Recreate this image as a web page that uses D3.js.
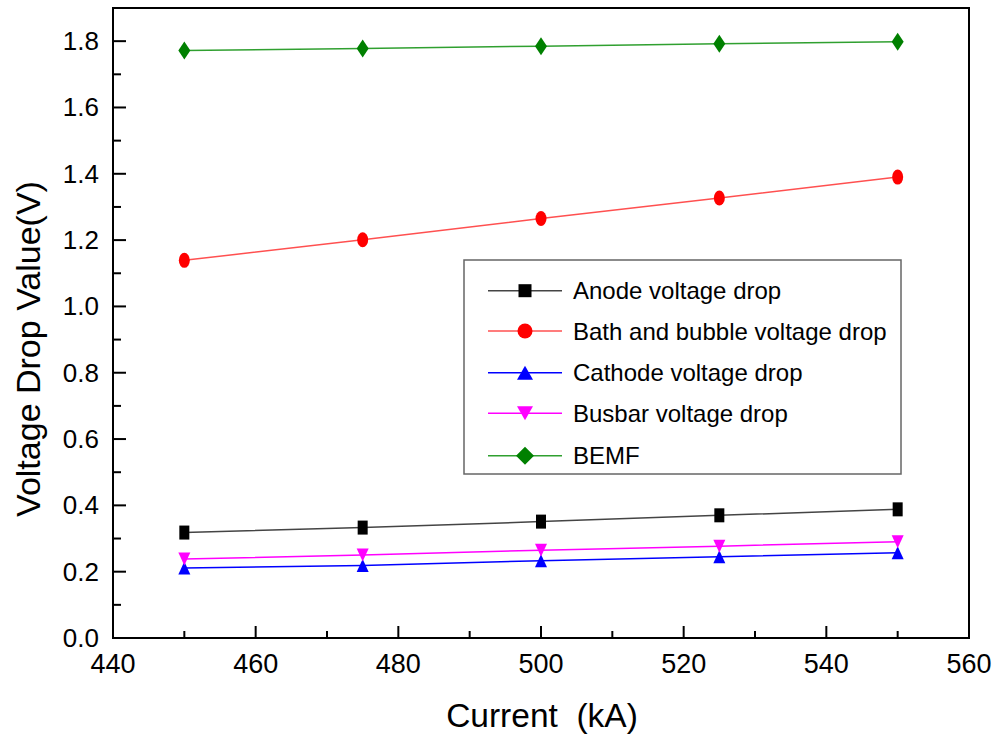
<!DOCTYPE html>
<html><head><meta charset="utf-8">
<script src="https://cdn.jsdelivr.net/npm/d3@7"></script>
<style>body{margin:0;background:#fff}svg{display:block}text{font-family:"Liberation Sans",Arial,sans-serif}</style>
</head><body><svg id="c" width="996" height="740"></svg>
<script>
const current = [450, 475, 500, 525, 550];
const anode   = [0.318, 0.333, 0.351, 0.370, 0.388];
const bath    = [1.139, 1.201, 1.265, 1.327, 1.390];
const cathode = [0.211, 0.219, 0.233, 0.245, 0.257];
const busbar  = [0.238, 0.250, 0.265, 0.277, 0.290];
const bemf    = [1.772, 1.778, 1.785, 1.792, 1.798];
const xTicks = [440, 460, 480, 500, 520, 540, 560];
const yTicks = [0.0, 0.2, 0.4, 0.6, 0.8, 1.0, 1.2, 1.4, 1.6, 1.8];

const series = [
  {name:"Anode voltage drop", values:anode, color:"#000000", line:"#444", shape:"square"},
  {name:"Bath and bubble voltage drop", values:bath, color:"#ff0000", line:"#ff5050", shape:"circle"},
  {name:"Cathode voltage drop", values:cathode, color:"#0000ff", line:"#0000ff", shape:"tri"},
  {name:"Busbar voltage drop", values:busbar, color:"#ff00ff", line:"#ff00ff", shape:"tridown"},
  {name:"BEMF", values:bemf, color:"#008000", line:"#30a030", shape:"diamond"}
];

const L=113, R=969, T=8, B=638;
const x = d3.scaleLinear().domain([440,560]).range([L,R]);
const y = d3.scaleLinear().domain([0,1.9]).range([B,T]);
const svg = d3.select("#c");

function marker(g, shape, cx, cy, w, h, color){
  let p;
  if(shape==="square") p = g.append("rect").attr("x",cx-w/2).attr("y",cy-h/2).attr("width",w).attr("height",h);
  else if(shape==="circle") p = g.append("ellipse").attr("cx",cx).attr("cy",cy).attr("rx",w/2).attr("ry",h/2);
  else if(shape==="tri") p = g.append("path").attr("d",`M${cx},${cy-h/2}L${cx+w/2},${cy+h/2}L${cx-w/2},${cy+h/2}Z`);
  else if(shape==="tridown") p = g.append("path").attr("d",`M${cx},${cy+h/2}L${cx+w/2},${cy-h/2}L${cx-w/2},${cy-h/2}Z`);
  else p = g.append("path").attr("d",`M${cx},${cy-h/2}L${cx+w/2},${cy}L${cx},${cy+h/2}L${cx-w/2},${cy}Z`);
  p.attr("fill",color);
}
const sizes = {square:[10,14], circle:[11,15], tri:[12,13], tridown:[12,13], diamond:[12,18]};

const line = d3.line().x((d,i)=>x(current[i])).y(d=>y(d));
series.forEach(s=>{
  svg.append("path").datum(s.values).attr("d",line).attr("fill","none").attr("stroke",s.line).attr("stroke-width",1.5);
});
series.forEach(s=>{
  const g = svg.append("g");
  s.values.forEach((v,i)=>marker(g,s.shape,x(current[i]),y(v),sizes[s.shape][0],sizes[s.shape][1],s.color));
});

svg.append("rect").attr("x",L).attr("y",T).attr("width",R-L).attr("height",B-T).attr("fill","none").attr("stroke","#000").attr("stroke-width",2);

const xa = svg.append("g");
d3.range(440,561,10).forEach(v=>{
  const major = v%20===0;
  xa.append("line").attr("x1",x(v)).attr("x2",x(v)).attr("y1",B).attr("y2",B-(major?12:7)).attr("stroke","#000").attr("stroke-width",2);
});
xTicks.forEach(v=>xa.append("text").attr("x",x(v)).attr("y",673).attr("text-anchor","middle").attr("font-size",27).text(v));
const ya = svg.append("g");
d3.range(0,19).forEach(k=>{
  const v=k/10, major=k%2===0;
  ya.append("line").attr("x1",L).attr("x2",L+(major?13:8)).attr("y1",y(v)).attr("y2",y(v)).attr("stroke","#000").attr("stroke-width",2);
});
yTicks.forEach(v=>ya.append("text").attr("x",L-14).attr("y",y(v)+9).attr("text-anchor","end").attr("font-size",26).text(v.toFixed(1)));

svg.append("text").attr("x",542).attr("y",727).attr("text-anchor","middle").attr("font-size",33.5).attr("xml:space","preserve").text("Current  (kA)");
svg.append("text").attr("transform","translate(40,349) rotate(-90)").attr("text-anchor","middle").attr("font-size",34).text("Voltage Drop Value(V)");

const lg = svg.append("g");
lg.append("rect").attr("x",464).attr("y",260).attr("width",437).attr("height",214).attr("fill","#fff").attr("stroke","#666").attr("stroke-width",1.5);
const rowY = [290.7, 331, 372.7, 413.3, 455.7];
const lsz = {square:[13,13], circle:[15,15], tri:[16,14], tridown:[16,14], diamond:[18,18]};
series.forEach((s,i)=>{
  const cy=rowY[i];
  lg.append("line").attr("x1",488).attr("x2",562).attr("y1",cy).attr("y2",cy).attr("stroke",s.line).attr("stroke-width",1.5);
  marker(lg,s.shape,525,cy,lsz[s.shape][0],lsz[s.shape][1],s.color);
  lg.append("text").attr("x",573).attr("y",cy+8.5).attr("font-size",24).text(s.name);
});
</script></body></html>
